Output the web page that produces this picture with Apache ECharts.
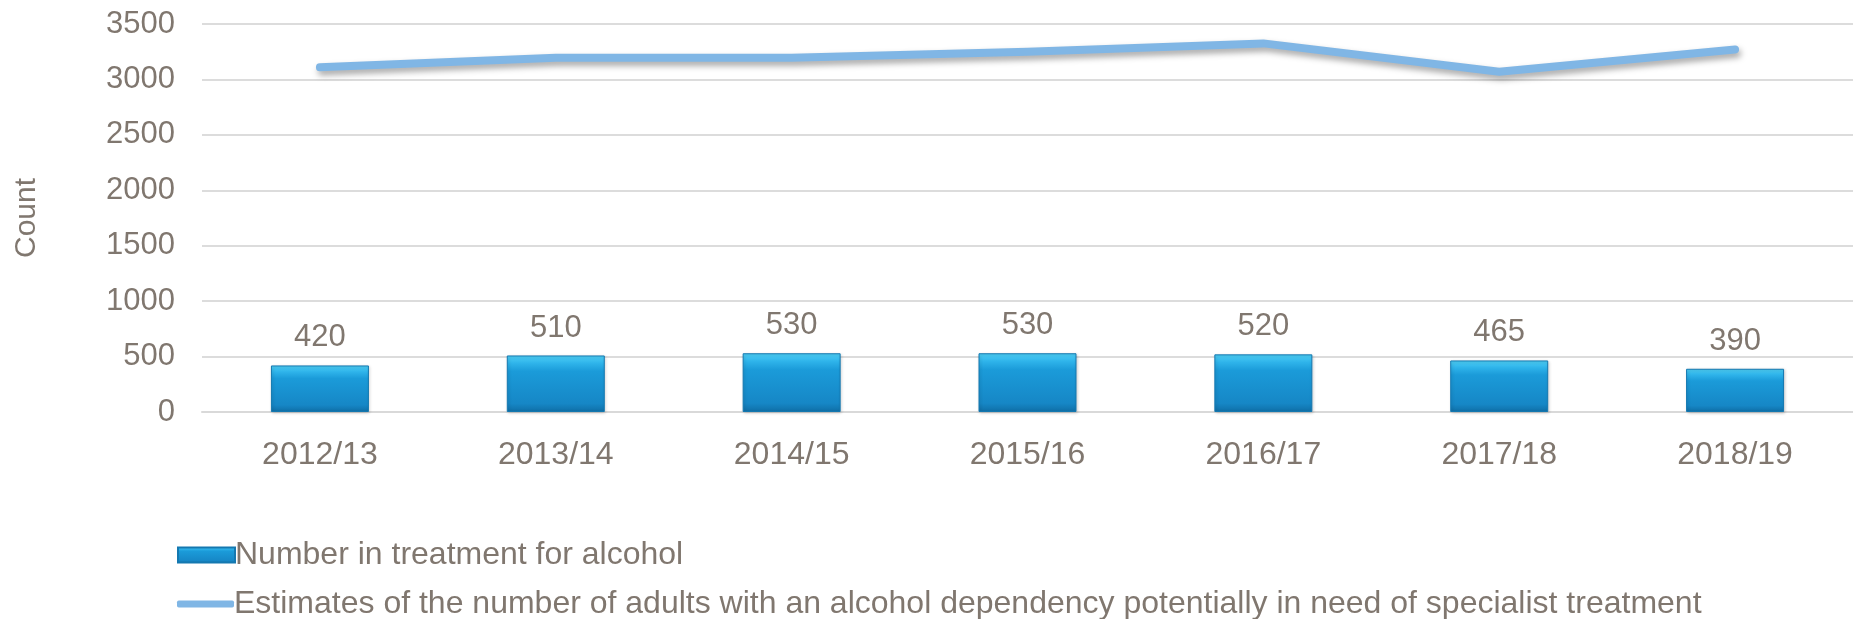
<!DOCTYPE html>
<html>
<head>
<meta charset="utf-8">
<script src="https://cdn.jsdelivr.net/npm/echarts@6/dist/echarts.min.js"></script>
<style>
  html, body { margin: 0; padding: 0; background: #ffffff; }
  #chart { width: 1853px; height: 619px; }
</style>
</head>
<body>
<div id="chart"></div>
<script>
// Financial years on the category axis
const years = ['2012/13', '2013/14', '2014/15', '2015/16', '2016/17', '2017/18', '2018/19'];
// Adults in treatment for alcohol (bars)
const inTreatment = [420, 510, 530, 530, 520, 465, 390];
// Estimated adults with alcohol dependency needing specialist treatment (line)
const estimatedNeed = [3110, 3195, 3195, 3250, 3325, 3070, 3270];
// Value axis ticks
const yMin = 0, yMax = 3500, yStep = 500;

const seriesNames = [
  'Number in treatment for alcohol',
  'Estimates of the number of adults with an alcohol dependency potentially in need of specialist treatment'
];

const textColor = '#80776f';
const lineColor = '#80b6e5';
const font = "'Liberation Sans', Arial, sans-serif";

const barFill = new echarts.graphic.LinearGradient(0, 0, 0, 1, [
  { offset: 0, color: '#4fd0f6' },
  { offset: 0.14, color: '#2eb3ea' },
  { offset: 0.28, color: '#1b9bd9' },
  { offset: 0.85, color: '#1687c6' },
  { offset: 1, color: '#0f6ea6' }
]);

const legendText = { fontFamily: font, fontSize: 32, color: textColor, padding: [0, 0, 0, -5] };

const chart = echarts.init(document.getElementById('chart'), null, { renderer: 'canvas' });

chart.setOption({
  backgroundColor: '#ffffff',
  animation: false,
  textStyle: { fontFamily: font, color: textColor },
  grid: { left: 202, right: -10, top: 24, bottom: 207, containLabel: false },
  legend: [
    {
      left: 172,
      top: 534,
      itemWidth: 57,
      itemHeight: 15,
      icon: 'rect',
      textStyle: legendText,
      data: [seriesNames[0]]
    },
    {
      left: 172,
      top: 583,
      itemWidth: 57,
      itemHeight: 7,
      icon: 'roundRect',
      itemStyle: { color: lineColor, borderWidth: 0 },
      textStyle: legendText,
      data: [seriesNames[1]]
    }
  ],
  xAxis: {
    type: 'category',
    data: years,
    axisLine: { show: true, lineStyle: { color: '#d9d9d9', width: 2 } },
    axisTick: { show: false },
    axisLabel: { fontFamily: font, fontSize: 32, color: textColor, margin: 27 }
  },
  yAxis: {
    type: 'value',
    min: yMin,
    max: yMax,
    interval: yStep,
    name: 'Count',
    nameLocation: 'middle',
    nameRotate: 90,
    nameGap: 160,
    nameTextStyle: { fontFamily: font, fontSize: 30, color: textColor },
    axisLine: { show: false },
    axisTick: { show: false },
    axisLabel: {
      fontFamily: font, fontSize: 31, color: textColor, margin: 27,
      formatter: v => String(v)
    },
    splitLine: { show: true, lineStyle: { color: '#dcdcdc', width: 2 } }
  },
  series: [
    {
      name: seriesNames[0],
      type: 'bar',
      data: inTreatment,
      barWidth: 98,
      itemStyle: {
        color: barFill,
        borderColor: '#1478b0',
        borderWidth: 1,
        shadowColor: 'rgba(0,0,0,0.18)',
        shadowBlur: 3,
        shadowOffsetX: 1,
        shadowOffsetY: 1
      },
      label: {
        show: true,
        position: 'top',
        distance: 12,
        fontFamily: font,
        fontSize: 31,
        color: textColor
      },
      z: 2
    },
    {
      name: seriesNames[1],
      type: 'line',
      data: estimatedNeed,
      symbol: 'none',
      smooth: false,
      lineStyle: {
        color: lineColor,
        width: 8,
        cap: 'round',
        join: 'round',
        shadowColor: 'rgba(0,0,0,0.35)',
        shadowBlur: 6,
        shadowOffsetX: 2,
        shadowOffsetY: 4
      },
      itemStyle: { color: lineColor },
      z: 3
    }
  ]
});
</script>
</body>
</html>
